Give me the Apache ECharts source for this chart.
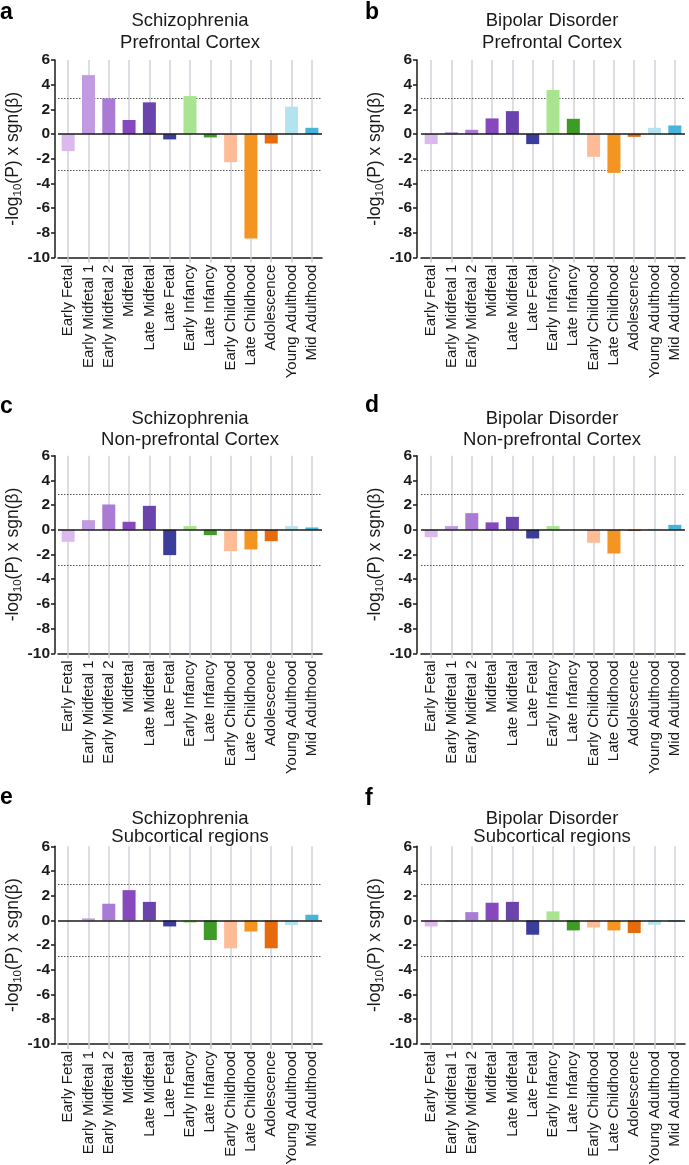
<!DOCTYPE html>
<html>
<head>
<meta charset="utf-8">
<script src="https://cdn.jsdelivr.net/npm/echarts@6/dist/echarts.min.js"></script>
<style>
html,body{margin:0;padding:0;background:#ffffff;}
#chart{width:689px;height:1165px;}
</style>
</head>
<body>
<div id="chart"></div>
<script>
// ---- data ----
const categories = ['Early Fetal','Early Midfetal 1','Early Midfetal 2','Midfetal','Late Midfetal','Late Fetal',
  'Early Infancy','Late Infancy','Early Childhood','Late Childhood','Adolescence','Young Adulthood','Mid Adulthood'];
const stageColors = ['#dbb9ed','#c09be1','#a97bd4','#8747bd','#6a43ad','#3b3d9d',
  '#a9e590','#3e9b25','#fdbc96','#f49522','#e66b0c','#b4e3f0','#47b4d9'];

const sczPrefrontal    = [-1.38, 4.78, 2.89, 1.14, 2.57, -0.43, 3.08, -0.27, -2.27, -8.46, -0.76, 2.22, 0.51];
const bpPrefrontal     = [-0.81, 0.16, 0.35, 1.27, 1.86, -0.81, 3.57, 1.24, -1.84, -3.14, -0.22, 0.51, 0.70];
const sczNonPrefrontal = [-0.97, 0.78, 2.05, 0.65, 1.94, -2.05, 0.30, -0.43, -1.73, -1.59, -0.92, 0.30, 0.19];
const bpNonPrefrontal  = [-0.60, 0.30, 1.35, 0.60, 1.05, -0.70, 0.30, 0.00, -1.05, -1.92, -0.10, 0.08, 0.40];
const sczSubcortical   = [0.00, 0.16, 1.35, 2.45, 1.50, -0.49, -0.19, -1.59, -2.26, -0.90, -2.26, -0.38, 0.46];
const bpSubcortical    = [-0.49, -0.10, 0.67, 1.43, 1.50, -1.16, 0.73, -0.81, -0.57, -0.81, -1.02, -0.35, -0.10];

const yMin = -10, yMax = 6, yInterval = 2;
const significanceThreshold = 2.89;

const panels = [
  {letter:'a', line1:'Schizophrenia',    line2:'Prefrontal Cortex',     values: sczPrefrontal},
  {letter:'b', line1:'Bipolar Disorder', line2:'Prefrontal Cortex',     values: bpPrefrontal},
  {letter:'c', line1:'Schizophrenia',    line2:'Non-prefrontal Cortex', values: sczNonPrefrontal},
  {letter:'d', line1:'Bipolar Disorder', line2:'Non-prefrontal Cortex', values: bpNonPrefrontal},
  {letter:'e', line1:'Schizophrenia',    line2:'Subcortical regions',   values: sczSubcortical},
  {letter:'f', line1:'Bipolar Disorder', line2:'Subcortical regions',   values: bpSubcortical}
];

// ---- layout ----
const FONT = '"Liberation Sans", Arial, Helvetica, sans-serif';
const TXT = '#1a1a1a';
const colLeft = [58, 421];
const colAxisOffset = [3, 4];
const rowTop = [60, 455.7, 846.3];
const gridW = 264, gridH = 197.6;
const titleCenterX = [190, 552];
const titleLine1Y = [21, 418.5, 818.5];
const titleLine2Y = [42.5, 440, 836.5];
const letterPos = [[0, 1], [365, 1], [0, 395], [365, 394], [0, 786], [365, 787]];

const grids = [], xAxes = [], yAxes = [], series = [], graphics = [];

panels.forEach((p, i) => {
  const col = i % 2, row = Math.floor(i / 2);
  grids.push({left: colLeft[col], top: rowTop[row], width: gridW, height: gridH,
    containLabel: false, outerBoundsMode: 'none'});
  xAxes.push({
    type: 'category', gridIndex: i, data: categories, boundaryGap: true,
    axisLine: {onZero: false, lineStyle: {color: '#1a1a1a', width: 1.5}},
    axisTick: {show: true, alignWithLabel: true, length: 5, lineStyle: {color: '#c8c8d2', width: 1.5}},
    axisLabel: {
      rotate: 90, interval: 0, margin: 7, hideOverlap: false,
      fontSize: 15, color: TXT, fontFamily: FONT
    },
    splitLine: {show: false}
  });
  yAxes.push({
    type: 'value', gridIndex: i, min: yMin, max: yMax, interval: yInterval, offset: colAxisOffset[col],
    axisLine: {show: true, lineStyle: {color: '#1a1a1a', width: 1.5}},
    axisTick: {show: true, length: 4, lineStyle: {color: '#1a1a1a', width: 1.5}},
    axisLabel: {fontSize: 15.5, fontWeight: 'bold', color: TXT, fontFamily: FONT, margin: 5},
    splitLine: {show: false},
    name: '{a|-log}{s|10}{a|(P) x sgn(β)}',
    nameLocation: 'middle', nameGap: 30, nameRotate: 90,
    nameTextStyle: {
      rich: {
        a: {fontSize: 17.5, color: TXT, fontFamily: FONT, lineHeight: 22},
        s: {fontSize: 11.5, color: TXT, fontFamily: FONT, lineHeight: 12, verticalAlign: 'bottom'}
      }
    }
  });
  series.push({
    type: 'bar', xAxisIndex: i, yAxisIndex: i, barWidth: 13, z: 2,
    data: p.values.map((v, k) => ({value: v, itemStyle: {color: stageColors[k]}})),
    markLine: {
      z: 1, silent: true, symbol: ['none', 'none'], label: {show: false}, animation: false,
      data: categories.map(c => ({xAxis: c, lineStyle: {color: '#d2d2da', width: 1.5, type: 'solid'}}))
        .concat([
          {yAxis: significanceThreshold, lineStyle: {color: '#555555', width: 1, type: [1.5, 1.5]}},
          {yAxis: -significanceThreshold, lineStyle: {color: '#555555', width: 1, type: [1.5, 1.5]}}
        ])
    }
  });
  series.push({
    type: 'line', xAxisIndex: i, yAxisIndex: i, data: [], z: 5,
    markLine: {
      z: 5, silent: true, symbol: ['none', 'none'], label: {show: false}, animation: false,
      data: [{yAxis: 0, lineStyle: {color: '#1a1a1a', width: 1.5, type: 'solid'}}]
    }
  });
  graphics.push({type: 'text', x: titleCenterX[col], y: titleLine1Y[row],
    style: {text: p.line1, font: '18.5px ' + FONT, fill: TXT, textAlign: 'center', textVerticalAlign: 'middle'}});
  graphics.push({type: 'text', x: titleCenterX[col], y: titleLine2Y[row],
    style: {text: p.line2, font: '18.5px ' + FONT, fill: TXT, textAlign: 'center', textVerticalAlign: 'middle'}});
  graphics.push({type: 'text', x: letterPos[i][0], y: letterPos[i][1],
    style: {text: p.letter, font: 'bold 23px ' + FONT, fill: '#000', textAlign: 'left', textVerticalAlign: 'top'}});
});

const chart = echarts.init(document.getElementById('chart'), null, {renderer: 'canvas'});
chart.setOption({
  animation: false,
  backgroundColor: '#ffffff',
  grid: grids, xAxis: xAxes, yAxis: yAxes, series: series, graphic: graphics
});
</script>
</body>
</html>
